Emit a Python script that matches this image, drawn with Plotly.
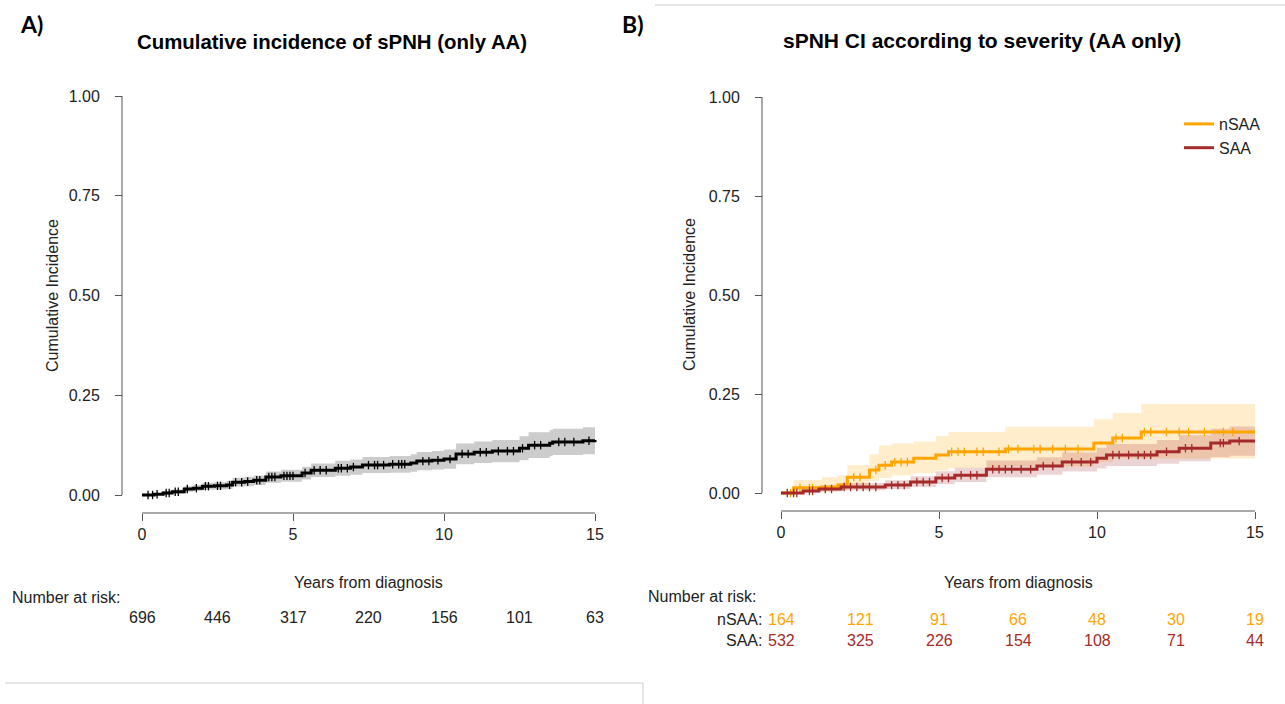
import numpy as np
import plotly.graph_objects as go

W, H = 1285, 704

# ---- panel A: cumulative incidence, all AA ----
t_a = [0, 0.4, 0.7, 1.0, 1.4, 1.7, 2.0, 2.4, 2.8, 3.0, 3.4, 3.7, 4.1, 4.6, 5.3, 5.6, 6.4, 6.9, 7.3,
       8.2, 8.9, 9.1, 9.6, 10.0, 10.4, 11.0, 11.6, 12.5, 12.8, 13.5, 13.6, 14.6, 15]
ci_a = [0, 0.002, 0.005, 0.008, 0.015, 0.017, 0.022, 0.023, 0.025, 0.032, 0.034, 0.037, 0.045, 0.048,
        0.055, 0.062, 0.067, 0.07, 0.075, 0.077, 0.08, 0.085, 0.087, 0.09, 0.103, 0.107, 0.11, 0.117,
        0.125, 0.13, 0.133, 0.136, 0.138]
lo_a = [0, 0, 0.001, 0.003, 0.008, 0.01, 0.013, 0.014, 0.015, 0.021, 0.022, 0.025, 0.031, 0.033,
        0.039, 0.045, 0.048, 0.051, 0.055, 0.056, 0.058, 0.062, 0.064, 0.066, 0.077, 0.08, 0.082,
        0.087, 0.093, 0.097, 0.1, 0.102, 0.104]
hi_a = [0, 0.005, 0.01, 0.014, 0.022, 0.025, 0.031, 0.032, 0.035, 0.043, 0.046, 0.049, 0.059, 0.063,
        0.071, 0.079, 0.086, 0.089, 0.095, 0.098, 0.102, 0.108, 0.11, 0.114, 0.129, 0.134, 0.138,
        0.147, 0.157, 0.163, 0.166, 0.17, 0.173]
cens_a = [0.2, 0.35, 0.5, 0.8, 0.9, 1.1, 1.2, 1.5, 1.8, 2.1, 2.2, 2.5, 2.6, 2.9, 3.1, 3.3, 3.5, 3.8,
          3.9, 4.2, 4.3, 4.4, 4.7, 4.8, 4.9, 5.0, 5.4, 5.7, 5.9, 6.1, 6.5, 6.6, 6.8, 7.0, 7.5, 7.7,
          7.8, 8.0, 8.3, 8.5, 8.6, 8.7, 9.3, 9.5, 9.8, 10.2, 10.6, 10.8, 11.2, 11.4, 11.8, 12.1,
          12.3, 12.6, 13.0, 13.2, 13.8, 14.0, 14.3, 14.8]

# ---- panel B: by severity ----
t_n = [0, 0.4, 1.3, 1.8, 2.1, 2.8, 3.1, 3.5, 4.2, 4.9, 5.3, 7.1, 9.9, 10.5, 11.4, 15]
ci_n = [0, 0.013, 0.015, 0.02, 0.04, 0.058, 0.07, 0.078, 0.088, 0.096, 0.104, 0.111, 0.126, 0.139,
        0.154, 0.154]
lo_n = [0, 0.003, 0.004, 0.007, 0.018, 0.03, 0.038, 0.044, 0.05, 0.057, 0.063, 0.067, 0.078, 0.088,
        0.087, 0.086]
hi_n = [0, 0.033, 0.04, 0.045, 0.07, 0.098, 0.12, 0.125, 0.13, 0.144, 0.154, 0.167, 0.186, 0.202,
        0.225, 0.225]
cens_n = [0.3, 0.6, 0.9, 1.0, 2.3, 2.5, 3.0, 3.3, 3.6, 3.8, 4.0, 5.4, 5.6, 5.8, 6.2, 6.4, 6.9, 7.2,
          7.5, 8.0, 8.2, 8.6, 9.0, 9.4, 10.6, 10.8, 11.5, 11.7, 12.2, 12.6, 12.9, 13.4, 14.0, 14.3]

t_s = [0, 0.7, 1.2, 1.9, 3.3, 4.1, 4.9, 5.5, 6.5, 8.1, 8.9, 10.0, 10.3, 11.9, 12.6, 13.6, 14.2, 15]
ci_s = [0, 0.005, 0.01, 0.015, 0.02, 0.028, 0.038, 0.045, 0.06, 0.068, 0.078, 0.088, 0.096, 0.104,
        0.113, 0.126, 0.131, 0.131]
lo_s = [0, 0.001, 0.004, 0.007, 0.01, 0.015, 0.022, 0.028, 0.04, 0.046, 0.054, 0.062, 0.068, 0.074,
        0.08, 0.09, 0.094, 0.094]
hi_s = [0, 0.012, 0.018, 0.025, 0.032, 0.042, 0.055, 0.064, 0.082, 0.09, 0.102, 0.114, 0.124, 0.134,
        0.146, 0.162, 0.168, 0.168]
cens_s = [0.2, 0.4, 0.5, 0.9, 1.0, 1.4, 1.6, 2.0, 2.2, 2.4, 2.6, 2.8, 3.0, 3.5, 3.7, 3.9, 4.3, 4.5,
          4.7, 5.1, 5.3, 5.7, 6.0, 6.2, 6.7, 6.9, 7.1, 7.3, 7.6, 7.9, 8.3, 8.6, 9.2, 9.5, 9.8, 10.5,
          10.7, 11.0, 11.3, 11.5, 11.7, 12.2, 12.8, 13.0, 13.9, 14.0, 14.5]

risk_times = [0, 2.5, 5, 7.5, 10, 12.5, 15]
risk_a = [696, 446, 317, 220, 156, 101, 63]
risk_n = [164, 121, 91, 66, 48, 30, 19]
risk_s = [532, 325, 226, 154, 108, 71, 44]

ORANGE = "#FFA500"
RED = "#A52A2A"
FONT = "Liberation Sans, Arial, sans-serif"
TXT = "#222222"


def px(x):
    return x / W


def py(y):
    return 1 - y / H


def step_at(t, v, c):
    idx = np.searchsorted(t, c, side="right") - 1
    return [v[i] for i in idx]


fig = go.Figure()


def add_band(t, lo, hi, fill, xa, ya):
    fig.add_trace(go.Scatter(x=t, y=lo, mode="lines", line=dict(width=0, shape="hv"),
                             showlegend=False, hoverinfo="skip", xaxis=xa, yaxis=ya))
    fig.add_trace(go.Scatter(x=t, y=hi, mode="lines", line=dict(width=0, shape="hv"),
                             fill="tonexty", fillcolor=fill, showlegend=False,
                             hoverinfo="skip", xaxis=xa, yaxis=ya))


def add_curve(t, v, cens, color, name, legend, xa, ya):
    fig.add_trace(go.Scatter(x=t, y=v, mode="lines", line=dict(color=color, width=3, shape="hv"),
                             name=name, showlegend=legend, xaxis=xa, yaxis=ya))
    fig.add_trace(go.Scatter(x=cens, y=step_at(t, v, cens), mode="markers",
                             marker=dict(symbol="line-ns", size=6,
                                         line=dict(color=color, width=1.3)),
                             showlegend=False, hoverinfo="skip", xaxis=xa, yaxis=ya))


add_band(t_a, lo_a, hi_a, "rgba(0,0,0,0.2)", "x", "y")
add_curve(t_a, ci_a, cens_a, "black", "all", False, "x", "y")

add_band(t_n, lo_n, hi_n, "rgba(255,165,0,0.2)", "x2", "y2")
add_band(t_s, lo_s, hi_s, "rgba(165,42,42,0.2)", "x2", "y2")
add_curve(t_n, ci_n, cens_n, ORANGE, "nSAA", True, "x2", "y2")
add_curve(t_s, ci_s, cens_s, RED, "SAA", True, "x2", "y2")

# panel geometry (pixels): x0 = pixel of t=0, x15 = pixel of t=15, y0/y1 = pixel of 0 and 1,
# yax = y-axis line x, xax = x-axis line y
panels = {
    "A": dict(x0=142, x15=595, y0=495, y1=96, yax=122, xax=513),
    "B": dict(x0=781, x15=1255, y0=493, y1=97, yax=762, xax=511),
}

axis_common = dict(showgrid=False, zeroline=False, showline=False, ticks="outside", ticklen=7,
                   tickwidth=1, tickcolor="#555555", anchor="free",
                   tickfont=dict(family=FONT, size=16, color=TXT))

layout_axes = {}
shapes = []
for key, (xn, yn) in zip(["A", "B"], [("xaxis", "yaxis"), ("xaxis2", "yaxis2")]):
    p = panels[key]
    sx = (p["x15"] - p["x0"]) / 15.0
    sy = (p["y0"] - p["y1"]) / 1.0
    xr = [-0.6, 15.6]
    yr = [-0.04, 1.04]
    xd = [px(p["x0"] + xr[0] * sx), px(p["x0"] + xr[1] * sx)]
    yd = [py(p["y0"] - yr[0] * sy), py(p["y0"] - yr[1] * sy)]
    layout_axes[xn] = dict(axis_common, domain=xd, range=xr, tickvals=[0, 5, 10, 15],
                           position=py(p["xax"]))
    layout_axes[yn] = dict(axis_common, domain=yd, range=yr,
                           tickvals=[0, 0.25, 0.5, 0.75, 1.0], tickformat=".2f",
                           position=px(p["yax"]), ticklabelstandoff=12)
    xref = "x" if key == "A" else "x2"
    yref = "y" if key == "A" else "y2"
    shapes.append(dict(type="line", xref=xref, yref="paper", x0=0, x1=15,
                       y0=py(p["xax"]), y1=py(p["xax"]), line=dict(color="#555555", width=1)))
    shapes.append(dict(type="line", xref="paper", yref=yref, x0=px(p["yax"]), x1=px(p["yax"]),
                       y0=0, y1=1, line=dict(color="#555555", width=1)))

# frame lines from the composed figure
for x0, y0, x1, y1 in [(655, 5, 1285, 5), (5, 683, 643, 683), (643, 683, 643, 704)]:
    shapes.append(dict(type="line", xref="paper", yref="paper", x0=px(x0), x1=px(x1),
                       y0=py(y0), y1=py(y1), line=dict(color="#CCCCCC", width=1)))

ann = []


def text(x, y, s, size=16, color=TXT, xanchor="center", bold=False, family=FONT, xref="paper",
         angle=0):
    ann.append(dict(x=x, y=y, xref=xref, yref="paper", text=f"<b>{s}</b>" if bold else s,
                    showarrow=False, xanchor=xanchor, yanchor="middle", textangle=angle,
                    font=dict(family=family, size=size, color=color)))


text(px(18), py(24), "A)", size=23, bold=True, xanchor="left", family="Lato, sans-serif",
     color="black")
text(px(620), py(24), "B)", size=23, bold=True, xanchor="left", family="Lato, sans-serif",
     color="black")
text(px(332), py(42), "Cumulative incidence of sPNH (only AA)", size=20.4, bold=True,
     color="black")
text(px(982), py(41), "sPNH CI according to severity (AA only)", size=21, bold=True,
     color="black")

text(px(52), py(296), "Cumulative Incidence", angle=-90)
text(px(690), py(295), "Cumulative Incidence", angle=-90)
text(7.5, py(582), "Years from diagnosis", xref="x")
text(7.5, py(582), "Years from diagnosis", xref="x2")

text(px(10), py(597), "Number at risk:", xanchor="left")
text(px(646), py(596), "Number at risk:", xanchor="left")
text(px(764), py(619), "nSAA:", xanchor="right")
text(px(764), py(640), "SAA:", xanchor="right")

for t, a, n, s in zip(risk_times, risk_a, risk_n, risk_s):
    text(t, py(617), str(a), xref="x")
    text(t, py(619), str(n), xref="x2", color=ORANGE)
    text(t, py(640), str(s), xref="x2", color=RED)

fig.update_layout(
    width=W, height=H, margin=dict(l=0, r=0, t=0, b=0),
    paper_bgcolor="white", plot_bgcolor="white",
    showlegend=True,
    legend=dict(x=px(1179), y=py(107), xanchor="left", yanchor="top", traceorder="normal",
                bgcolor="rgba(0,0,0,0)", font=dict(family=FONT, size=16, color=TXT),
                tracegroupgap=0, itemwidth=30),
    shapes=shapes, annotations=ann,
    **layout_axes,
)

fig.write_html("out.html", config={"displayModeBar": False},
               post_script="document.body.style.margin='0';")
